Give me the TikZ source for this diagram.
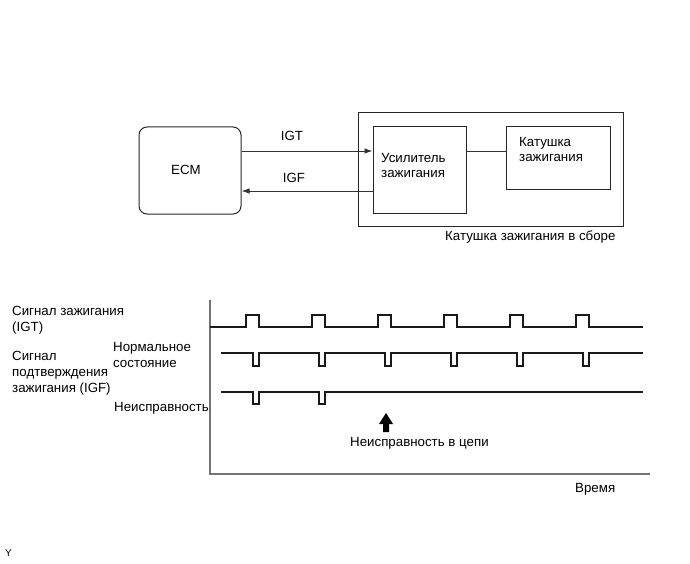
\documentclass[tikz,border=0pt]{standalone}
\usepackage{fontspec}
\setmainfont{Liberation Sans}
\usetikzlibrary{arrows.meta}
\begin{document}
\begin{tikzpicture}[x=1pt,y=-1pt,
  every node/.style={font=\fontsize{13.3}{15.5}\selectfont, inner sep=0pt},
  blk/.style={draw=black!85, line width=1pt, minimum width=#1},
  lbl/.style={anchor=west, align=left},
  conn/.style={line width=0.9pt, draw=black!80},
  arr/.style={conn, -{Latex[length=8pt,width=5.5pt]}},
  sig/.style={line width=2pt, draw=black!90, line join=miter},
  axis/.style={line width=1.3pt, draw=black!55},
  ]
\useasboundingbox (0,0) rectangle (690,564);

% top block diagram
\node[blk=102pt, minimum height=87pt, rounded corners=8pt] (ecm) at (190,170.5) {};
\node (ecmt) at (186,170) {ECM};
\node[blk=265pt, minimum height=113pt] (asm) at (490.5,169.5) {};
\node[blk=93pt, minimum height=86pt] (amp) at (419.5,170) {};
\node[blk=104pt, minimum height=62pt] (coil) at (558,158) {};
\node[lbl] (ampt) at (381,165.5) {Усилитель\\зажигания};
\node[lbl] (coilt) at (519,149.5) {Катушка\\зажигания};
\node[lbl] (asmt) at (445,237) {Катушка зажигания в сборе};

\coordinate (yigt) at (0,151);
\coordinate (yigf) at (0,191);
\draw[arr] (ecm.east |- yigt) -- (amp.west |- yigt);
\draw[arr] (amp.west |- yigf) -- (ecm.east |- yigf);
\draw[conn] (amp.east |- yigt) -- (coil.west |- yigt);
\node (igt) at (292,136) {IGT};
\node (igf) at (294,178) {IGF};

% timing chart
\coordinate (atop) at (210,300);
\coordinate (aorg) at (210,474);
\coordinate (aend) at (650,474);
\draw[axis] (atop) -- (aorg) -- (aend);

\draw[sig] (210,327) foreach \k in {0,...,5} {
  -- ({246+66*\k},327) -- ({246+66*\k},315) -- ({259+66*\k},315) -- ({259+66*\k},327)
} -- (643,327);
\draw[sig] (221,353) foreach \k in {0,...,5} {
  -- ({253+66*\k},353) -- ({253+66*\k},366) -- ({259+66*\k},366) -- ({259+66*\k},353)
} -- (643,353);
\draw[sig] (221,392) foreach \k in {0,1} {
  -- ({253+66*\k},392) -- ({253+66*\k},404) -- ({259+66*\k},404) -- ({259+66*\k},392)
} -- (643,392);

\fill[black] (386,413) -- (393,424) -- (389,424) -- (389,432) -- (383,432) -- (383,424) -- (379,424) -- cycle;

\node[lbl, font=\fontsize{13.3}{16}\selectfont] (l1) at (12,320) {Сигнал зажигания\\(IGT)};
\node[lbl, font=\fontsize{13.3}{16}\selectfont] (l2) at (12,373) {Сигнал\\подтверждения\\зажигания (IGF)};
\node[lbl, font=\fontsize{13.3}{16}\selectfont] (l3) at (113,355) {Нормальное\\состояние};
\node[lbl] (l4) at (114,408) {Неисправность};
\node[lbl] (l5) at (350,443) {Неисправность в цепи};
\node[lbl] (l6) at (575,489) {Время};
\node[lbl, font=\fontsize{10}{11}\selectfont] (ymark) at (5,553) {Y};
\end{tikzpicture}
\end{document}
